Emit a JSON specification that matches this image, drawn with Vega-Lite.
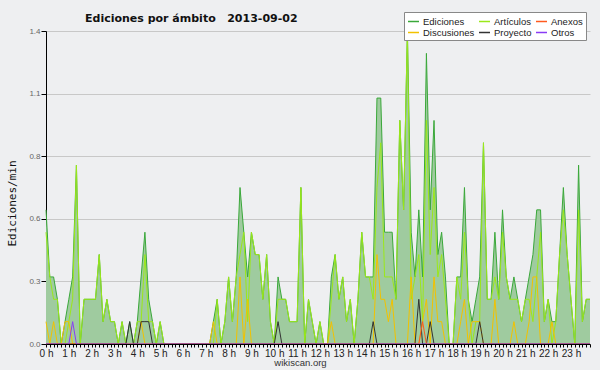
{
  "$schema": "https://vega.github.io/schema/vega-lite/v6.json",
  "width": 544,
  "height": 313,
  "autosize": {"type": "none"},
  "padding": {"left": 46, "top": 31, "right": 10, "bottom": 26},
  "background": "#eeeff1",
  "config": {"view": {"stroke": null}, "axis": {"labelOverlap": false, "labelBound": false}},
  "title": {
    "text": "Ediciones por ámbito\u00a0\u00a0\u00a02013-09-02",
    "anchor": "start",
    "frame": "group",
    "dx": 39,
    "offset": -21,
    "baseline": "alphabetic",
    "font": "DejaVu Sans",
    "fontWeight": "bold",
    "fontSize": 11,
    "color": "#111111"
  },
  "data": {
    "values": [
      {"t":0,"Ediciones":0.6,"Artículos":0.5,"Discusiones":0.1,"Proyecto":0,"Anexos":0,"Otros":0},
      {"t":1,"Ediciones":0.3,"Artículos":0.3,"Discusiones":0,"Proyecto":0,"Anexos":0,"Otros":0},
      {"t":2,"Ediciones":0.3,"Artículos":0.2,"Discusiones":0.1,"Proyecto":0,"Anexos":0,"Otros":0},
      {"t":3,"Ediciones":0.2,"Artículos":0.2,"Discusiones":0,"Proyecto":0,"Anexos":0,"Otros":0},
      {"t":4,"Ediciones":0,"Artículos":0,"Discusiones":0,"Proyecto":0,"Anexos":0,"Otros":0},
      {"t":5,"Ediciones":0.1,"Artículos":0,"Discusiones":0.1,"Proyecto":0,"Anexos":0,"Otros":0},
      {"t":6,"Ediciones":0.2,"Artículos":0.1,"Discusiones":0.1,"Proyecto":0,"Anexos":0,"Otros":0},
      {"t":7,"Ediciones":0.3,"Artículos":0.2,"Discusiones":0,"Proyecto":0,"Anexos":0,"Otros":0.1},
      {"t":8,"Ediciones":0.8,"Artículos":0.8,"Discusiones":0,"Proyecto":0,"Anexos":0,"Otros":0},
      {"t":9,"Ediciones":0,"Artículos":0,"Discusiones":0,"Proyecto":0,"Anexos":0,"Otros":0},
      {"t":10,"Ediciones":0.2,"Artículos":0.2,"Discusiones":0,"Proyecto":0,"Anexos":0,"Otros":0},
      {"t":11,"Ediciones":0.2,"Artículos":0.2,"Discusiones":0,"Proyecto":0,"Anexos":0,"Otros":0},
      {"t":12,"Ediciones":0.2,"Artículos":0.2,"Discusiones":0,"Proyecto":0,"Anexos":0,"Otros":0},
      {"t":13,"Ediciones":0.2,"Artículos":0.2,"Discusiones":0,"Proyecto":0,"Anexos":0,"Otros":0},
      {"t":14,"Ediciones":0.4,"Artículos":0.4,"Discusiones":0,"Proyecto":0,"Anexos":0,"Otros":0},
      {"t":15,"Ediciones":0.1,"Artículos":0.1,"Discusiones":0,"Proyecto":0,"Anexos":0,"Otros":0},
      {"t":16,"Ediciones":0.2,"Artículos":0.2,"Discusiones":0,"Proyecto":0,"Anexos":0,"Otros":0},
      {"t":17,"Ediciones":0.1,"Artículos":0.1,"Discusiones":0,"Proyecto":0,"Anexos":0,"Otros":0},
      {"t":18,"Ediciones":0.1,"Artículos":0.1,"Discusiones":0,"Proyecto":0,"Anexos":0,"Otros":0},
      {"t":19,"Ediciones":0,"Artículos":0,"Discusiones":0,"Proyecto":0,"Anexos":0,"Otros":0},
      {"t":20,"Ediciones":0.1,"Artículos":0.1,"Discusiones":0,"Proyecto":0,"Anexos":0,"Otros":0},
      {"t":21,"Ediciones":0,"Artículos":0,"Discusiones":0,"Proyecto":0,"Anexos":0,"Otros":0},
      {"t":22,"Ediciones":0.1,"Artículos":0,"Discusiones":0,"Proyecto":0.1,"Anexos":0,"Otros":0},
      {"t":23,"Ediciones":0,"Artículos":0,"Discusiones":0,"Proyecto":0,"Anexos":0,"Otros":0},
      {"t":24,"Ediciones":0.1,"Artículos":0.1,"Discusiones":0,"Proyecto":0,"Anexos":0,"Otros":0},
      {"t":25,"Ediciones":0.3,"Artículos":0.1,"Discusiones":0.1,"Proyecto":0.1,"Anexos":0,"Otros":0},
      {"t":26,"Ediciones":0.5,"Artículos":0.4,"Discusiones":0,"Proyecto":0.1,"Anexos":0,"Otros":0},
      {"t":27,"Ediciones":0.2,"Artículos":0.1,"Discusiones":0,"Proyecto":0.1,"Anexos":0,"Otros":0},
      {"t":28,"Ediciones":0.1,"Artículos":0.1,"Discusiones":0,"Proyecto":0,"Anexos":0,"Otros":0},
      {"t":29,"Ediciones":0,"Artículos":0,"Discusiones":0,"Proyecto":0,"Anexos":0,"Otros":0},
      {"t":30,"Ediciones":0.1,"Artículos":0.1,"Discusiones":0,"Proyecto":0,"Anexos":0,"Otros":0},
      {"t":31,"Ediciones":0,"Artículos":0,"Discusiones":0,"Proyecto":0,"Anexos":0,"Otros":0},
      {"t":32,"Ediciones":0,"Artículos":0,"Discusiones":0,"Proyecto":0,"Anexos":0,"Otros":0},
      {"t":33,"Ediciones":0,"Artículos":0,"Discusiones":0,"Proyecto":0,"Anexos":0,"Otros":0},
      {"t":34,"Ediciones":0,"Artículos":0,"Discusiones":0,"Proyecto":0,"Anexos":0,"Otros":0},
      {"t":35,"Ediciones":0,"Artículos":0,"Discusiones":0,"Proyecto":0,"Anexos":0,"Otros":0},
      {"t":36,"Ediciones":0,"Artículos":0,"Discusiones":0,"Proyecto":0,"Anexos":0,"Otros":0},
      {"t":37,"Ediciones":0,"Artículos":0,"Discusiones":0,"Proyecto":0,"Anexos":0,"Otros":0},
      {"t":38,"Ediciones":0,"Artículos":0,"Discusiones":0,"Proyecto":0,"Anexos":0,"Otros":0},
      {"t":39,"Ediciones":0,"Artículos":0,"Discusiones":0,"Proyecto":0,"Anexos":0,"Otros":0},
      {"t":40,"Ediciones":0,"Artículos":0,"Discusiones":0,"Proyecto":0,"Anexos":0,"Otros":0},
      {"t":41,"Ediciones":0,"Artículos":0,"Discusiones":0,"Proyecto":0,"Anexos":0,"Otros":0},
      {"t":42,"Ediciones":0,"Artículos":0,"Discusiones":0,"Proyecto":0,"Anexos":0,"Otros":0},
      {"t":43,"Ediciones":0,"Artículos":0,"Discusiones":0,"Proyecto":0,"Anexos":0,"Otros":0},
      {"t":44,"Ediciones":0.1,"Artículos":0,"Discusiones":0.1,"Proyecto":0,"Anexos":0,"Otros":0},
      {"t":45,"Ediciones":0.2,"Artículos":0.2,"Discusiones":0,"Proyecto":0,"Anexos":0,"Otros":0},
      {"t":46,"Ediciones":0,"Artículos":0,"Discusiones":0,"Proyecto":0,"Anexos":0,"Otros":0},
      {"t":47,"Ediciones":0.1,"Artículos":0.1,"Discusiones":0,"Proyecto":0,"Anexos":0,"Otros":0},
      {"t":48,"Ediciones":0.3,"Artículos":0.3,"Discusiones":0,"Proyecto":0,"Anexos":0,"Otros":0},
      {"t":49,"Ediciones":0.1,"Artículos":0.1,"Discusiones":0,"Proyecto":0,"Anexos":0,"Otros":0},
      {"t":50,"Ediciones":0.3,"Artículos":0.3,"Discusiones":0,"Proyecto":0,"Anexos":0,"Otros":0},
      {"t":51,"Ediciones":0.7,"Artículos":0.4,"Discusiones":0.3,"Proyecto":0,"Anexos":0,"Otros":0},
      {"t":52,"Ediciones":0.5,"Artículos":0.5,"Discusiones":0,"Proyecto":0,"Anexos":0,"Otros":0},
      {"t":53,"Ediciones":0.3,"Artículos":0.1,"Discusiones":0.2,"Proyecto":0,"Anexos":0,"Otros":0},
      {"t":54,"Ediciones":0.5,"Artículos":0.5,"Discusiones":0,"Proyecto":0,"Anexos":0,"Otros":0},
      {"t":55,"Ediciones":0.4,"Artículos":0.4,"Discusiones":0,"Proyecto":0,"Anexos":0,"Otros":0},
      {"t":56,"Ediciones":0.4,"Artículos":0.4,"Discusiones":0,"Proyecto":0,"Anexos":0,"Otros":0},
      {"t":57,"Ediciones":0.2,"Artículos":0.2,"Discusiones":0,"Proyecto":0,"Anexos":0,"Otros":0},
      {"t":58,"Ediciones":0.4,"Artículos":0.4,"Discusiones":0,"Proyecto":0,"Anexos":0,"Otros":0},
      {"t":59,"Ediciones":0.1,"Artículos":0.1,"Discusiones":0,"Proyecto":0,"Anexos":0,"Otros":0},
      {"t":60,"Ediciones":0,"Artículos":0,"Discusiones":0,"Proyecto":0,"Anexos":0,"Otros":0},
      {"t":61,"Ediciones":0.3,"Artículos":0.2,"Discusiones":0,"Proyecto":0.1,"Anexos":0,"Otros":0},
      {"t":62,"Ediciones":0.2,"Artículos":0.2,"Discusiones":0,"Proyecto":0,"Anexos":0,"Otros":0},
      {"t":63,"Ediciones":0.2,"Artículos":0.2,"Discusiones":0,"Proyecto":0,"Anexos":0,"Otros":0},
      {"t":64,"Ediciones":0.1,"Artículos":0.1,"Discusiones":0,"Proyecto":0,"Anexos":0,"Otros":0},
      {"t":65,"Ediciones":0.1,"Artículos":0.1,"Discusiones":0,"Proyecto":0,"Anexos":0,"Otros":0},
      {"t":66,"Ediciones":0.1,"Artículos":0.1,"Discusiones":0,"Proyecto":0,"Anexos":0,"Otros":0},
      {"t":67,"Ediciones":0.7,"Artículos":0.7,"Discusiones":0,"Proyecto":0,"Anexos":0,"Otros":0},
      {"t":68,"Ediciones":0,"Artículos":0,"Discusiones":0,"Proyecto":0,"Anexos":0,"Otros":0},
      {"t":69,"Ediciones":0.2,"Artículos":0.2,"Discusiones":0,"Proyecto":0,"Anexos":0,"Otros":0},
      {"t":70,"Ediciones":0.1,"Artículos":0.1,"Discusiones":0,"Proyecto":0,"Anexos":0,"Otros":0},
      {"t":71,"Ediciones":0,"Artículos":0,"Discusiones":0,"Proyecto":0,"Anexos":0,"Otros":0},
      {"t":72,"Ediciones":0.1,"Artículos":0.1,"Discusiones":0,"Proyecto":0,"Anexos":0,"Otros":0},
      {"t":73,"Ediciones":0,"Artículos":0,"Discusiones":0,"Proyecto":0,"Anexos":0,"Otros":0},
      {"t":74,"Ediciones":0,"Artículos":0,"Discusiones":0,"Proyecto":0,"Anexos":0,"Otros":0},
      {"t":75,"Ediciones":0.3,"Artículos":0.2,"Discusiones":0.1,"Proyecto":0,"Anexos":0,"Otros":0},
      {"t":76,"Ediciones":0.4,"Artículos":0.4,"Discusiones":0,"Proyecto":0,"Anexos":0,"Otros":0},
      {"t":77,"Ediciones":0.2,"Artículos":0.2,"Discusiones":0,"Proyecto":0,"Anexos":0,"Otros":0},
      {"t":78,"Ediciones":0.3,"Artículos":0.3,"Discusiones":0,"Proyecto":0,"Anexos":0,"Otros":0},
      {"t":79,"Ediciones":0.1,"Artículos":0.1,"Discusiones":0,"Proyecto":0,"Anexos":0,"Otros":0},
      {"t":80,"Ediciones":0.2,"Artículos":0.2,"Discusiones":0,"Proyecto":0,"Anexos":0,"Otros":0},
      {"t":81,"Ediciones":0,"Artículos":0,"Discusiones":0,"Proyecto":0,"Anexos":0,"Otros":0},
      {"t":82,"Ediciones":0.2,"Artículos":0.2,"Discusiones":0,"Proyecto":0,"Anexos":0,"Otros":0},
      {"t":83,"Ediciones":0.5,"Artículos":0.5,"Discusiones":0,"Proyecto":0,"Anexos":0,"Otros":0},
      {"t":84,"Ediciones":0.3,"Artículos":0.3,"Discusiones":0,"Proyecto":0,"Anexos":0,"Otros":0},
      {"t":85,"Ediciones":0.3,"Artículos":0.3,"Discusiones":0,"Proyecto":0,"Anexos":0,"Otros":0},
      {"t":86,"Ediciones":0.3,"Artículos":0.2,"Discusiones":0,"Proyecto":0.1,"Anexos":0,"Otros":0},
      {"t":87,"Ediciones":1.1,"Artículos":0.7,"Discusiones":0.4,"Proyecto":0,"Anexos":0,"Otros":0},
      {"t":88,"Ediciones":1.1,"Artículos":0.9,"Discusiones":0.2,"Proyecto":0,"Anexos":0,"Otros":0},
      {"t":89,"Ediciones":0.5,"Artículos":0.3,"Discusiones":0.2,"Proyecto":0,"Anexos":0,"Otros":0},
      {"t":90,"Ediciones":0.5,"Artículos":0.3,"Discusiones":0.1,"Proyecto":0,"Anexos":0,"Otros":0},
      {"t":91,"Ediciones":0.5,"Artículos":0.3,"Discusiones":0.2,"Proyecto":0,"Anexos":0,"Otros":0},
      {"t":92,"Ediciones":0.2,"Artículos":0.2,"Discusiones":0,"Proyecto":0,"Anexos":0,"Otros":0},
      {"t":93,"Ediciones":1.0,"Artículos":1.0,"Discusiones":0,"Proyecto":0,"Anexos":0,"Otros":0},
      {"t":94,"Ediciones":0.6,"Artículos":0.6,"Discusiones":0,"Proyecto":0,"Anexos":0,"Otros":0},
      {"t":95,"Ediciones":1.4,"Artículos":1.4,"Discusiones":0,"Proyecto":0,"Anexos":0,"Otros":0},
      {"t":96,"Ediciones":0.5,"Artículos":0.2,"Discusiones":0.3,"Proyecto":0,"Anexos":0,"Otros":0},
      {"t":97,"Ediciones":0.3,"Artículos":0.3,"Discusiones":0,"Proyecto":0,"Anexos":0,"Otros":0},
      {"t":98,"Ediciones":0.6,"Artículos":0.4,"Discusiones":0,"Proyecto":0.2,"Anexos":0,"Otros":0},
      {"t":99,"Ediciones":0.3,"Artículos":0.1,"Discusiones":0.1,"Proyecto":0,"Anexos":0.1,"Otros":0},
      {"t":100,"Ediciones":1.3,"Artículos":1.0,"Discusiones":0.2,"Proyecto":0,"Anexos":0,"Otros":0},
      {"t":101,"Ediciones":0.6,"Artículos":0.4,"Discusiones":0,"Proyecto":0.1,"Anexos":0,"Otros":0},
      {"t":102,"Ediciones":1.0,"Artículos":0.7,"Discusiones":0.3,"Proyecto":0,"Anexos":0,"Otros":0},
      {"t":103,"Ediciones":0.4,"Artículos":0.3,"Discusiones":0.1,"Proyecto":0,"Anexos":0,"Otros":0},
      {"t":104,"Ediciones":0.5,"Artículos":0.4,"Discusiones":0.1,"Proyecto":0,"Anexos":0,"Otros":0},
      {"t":105,"Ediciones":0.3,"Artículos":0.2,"Discusiones":0,"Proyecto":0,"Anexos":0,"Otros":0},
      {"t":106,"Ediciones":0,"Artículos":0,"Discusiones":0,"Proyecto":0,"Anexos":0,"Otros":0},
      {"t":107,"Ediciones":0,"Artículos":0,"Discusiones":0,"Proyecto":0,"Anexos":0,"Otros":0},
      {"t":108,"Ediciones":0.3,"Artículos":0.3,"Discusiones":0,"Proyecto":0,"Anexos":0,"Otros":0},
      {"t":109,"Ediciones":0.3,"Artículos":0.2,"Discusiones":0.1,"Proyecto":0,"Anexos":0,"Otros":0},
      {"t":110,"Ediciones":0.7,"Artículos":0.5,"Discusiones":0.2,"Proyecto":0,"Anexos":0,"Otros":0},
      {"t":111,"Ediciones":0.2,"Artículos":0.2,"Discusiones":0,"Proyecto":0,"Anexos":0,"Otros":0},
      {"t":112,"Ediciones":0.1,"Artículos":0,"Discusiones":0.1,"Proyecto":0,"Anexos":0,"Otros":0},
      {"t":113,"Ediciones":0.2,"Artículos":0.1,"Discusiones":0.1,"Proyecto":0,"Anexos":0,"Otros":0},
      {"t":114,"Ediciones":0.3,"Artículos":0.1,"Discusiones":0.1,"Proyecto":0.1,"Anexos":0,"Otros":0},
      {"t":115,"Ediciones":0.9,"Artículos":0.9,"Discusiones":0,"Proyecto":0,"Anexos":0,"Otros":0},
      {"t":116,"Ediciones":0.2,"Artículos":0.2,"Discusiones":0,"Proyecto":0,"Anexos":0,"Otros":0},
      {"t":117,"Ediciones":0.2,"Artículos":0.2,"Discusiones":0,"Proyecto":0,"Anexos":0,"Otros":0},
      {"t":118,"Ediciones":0.5,"Artículos":0.3,"Discusiones":0.2,"Proyecto":0,"Anexos":0,"Otros":0},
      {"t":119,"Ediciones":0.2,"Artículos":0.2,"Discusiones":0,"Proyecto":0,"Anexos":0,"Otros":0},
      {"t":120,"Ediciones":0.6,"Artículos":0.5,"Discusiones":0,"Proyecto":0,"Anexos":0,"Otros":0},
      {"t":121,"Ediciones":0.3,"Artículos":0.3,"Discusiones":0,"Proyecto":0,"Anexos":0,"Otros":0},
      {"t":122,"Ediciones":0.2,"Artículos":0.2,"Discusiones":0,"Proyecto":0,"Anexos":0,"Otros":0},
      {"t":123,"Ediciones":0.3,"Artículos":0.2,"Discusiones":0.1,"Proyecto":0,"Anexos":0,"Otros":0},
      {"t":124,"Ediciones":0.2,"Artículos":0.2,"Discusiones":0,"Proyecto":0,"Anexos":0,"Otros":0},
      {"t":125,"Ediciones":0.1,"Artículos":0.1,"Discusiones":0,"Proyecto":0,"Anexos":0,"Otros":0},
      {"t":126,"Ediciones":0.2,"Artículos":0.2,"Discusiones":0,"Proyecto":0,"Anexos":0,"Otros":0},
      {"t":127,"Ediciones":0.3,"Artículos":0.2,"Discusiones":0.1,"Proyecto":0,"Anexos":0,"Otros":0},
      {"t":128,"Ediciones":0.4,"Artículos":0.1,"Discusiones":0.3,"Proyecto":0,"Anexos":0,"Otros":0},
      {"t":129,"Ediciones":0.6,"Artículos":0.3,"Discusiones":0.3,"Proyecto":0,"Anexos":0,"Otros":0},
      {"t":130,"Ediciones":0.6,"Artículos":0.5,"Discusiones":0,"Proyecto":0,"Anexos":0,"Otros":0},
      {"t":131,"Ediciones":0.1,"Artículos":0.1,"Discusiones":0,"Proyecto":0,"Anexos":0,"Otros":0},
      {"t":132,"Ediciones":0.2,"Artículos":0.2,"Discusiones":0,"Proyecto":0,"Anexos":0,"Otros":0},
      {"t":133,"Ediciones":0.1,"Artículos":0,"Discusiones":0.1,"Proyecto":0,"Anexos":0,"Otros":0},
      {"t":134,"Ediciones":0.1,"Artículos":0.1,"Discusiones":0,"Proyecto":0,"Anexos":0,"Otros":0},
      {"t":135,"Ediciones":0.4,"Artículos":0.4,"Discusiones":0,"Proyecto":0,"Anexos":0,"Otros":0},
      {"t":136,"Ediciones":0.7,"Artículos":0.6,"Discusiones":0,"Proyecto":0,"Anexos":0,"Otros":0},
      {"t":137,"Ediciones":0.4,"Artículos":0.4,"Discusiones":0,"Proyecto":0,"Anexos":0,"Otros":0},
      {"t":138,"Ediciones":0.2,"Artículos":0.2,"Discusiones":0,"Proyecto":0,"Anexos":0,"Otros":0},
      {"t":139,"Ediciones":0,"Artículos":0,"Discusiones":0,"Proyecto":0,"Anexos":0,"Otros":0},
      {"t":140,"Ediciones":0.8,"Artículos":0.6,"Discusiones":0,"Proyecto":0,"Anexos":0,"Otros":0},
      {"t":141,"Ediciones":0.1,"Artículos":0.1,"Discusiones":0,"Proyecto":0,"Anexos":0,"Otros":0},
      {"t":142,"Ediciones":0.2,"Artículos":0.2,"Discusiones":0,"Proyecto":0,"Anexos":0,"Otros":0},
      {"t":143,"Ediciones":0.2,"Artículos":0.2,"Discusiones":0,"Proyecto":0,"Anexos":0,"Otros":0}
    ]
  },
  "encoding": {
    "x": {
      "field": "t",
      "type": "quantitative",
      "scale": {"domain": [0, 143], "nice": false, "zero": false},
      "axis": {
        "values": [0,1,2,3,4,5,6,7,8,9,10,11,12,13,14,15,16,17,18,19,20,21,22,23,24,25,26,27,28,29,30,31,32,33,34,35,36,37,38,39,40,41,42,43,44,45,46,47,48,49,50,51,52,53,54,55,56,57,58,59,60,61,62,63,64,65,66,67,68,69,70,71,72,73,74,75,76,77,78,79,80,81,82,83,84,85,86,87,88,89,90,91,92,93,94,95,96,97,98,99,100,101,102,103,104,105,106,107,108,109,110,111,112,113,114,115,116,117,118,119,120,121,122,123,124,125,126,127,128,129,130,131,132,133,134,135,136,137,138,139,140,141,142,143],
        "labelExpr": "datum.value % 6 === 0 ? (datum.value / 6) + ' h' : ''",
        "labelOverlap": false,
        "labelSeparation": -15,
        "labelFlush": false,
        "labelBound": false,
        "labelFont": "Liberation Sans",
        "labelFontSize": 10,
        "labelColor": "#222222",
        "labelPadding": 1,
        "tickSize": 3,
        "tickColor": "#000000",
        "domainColor": "#000000",
        "grid": false,
        "zindex": 1,
        "title": "wikiscan.org",
        "titleFont": "Liberation Sans",
        "titleFontSize": 9.5,
        "titleFontWeight": "normal",
        "titleColor": "#333333",
        "titleX": 254,
        "titleY": 21.5,
        "titleBaseline": "alphabetic",
        "titleAlign": "center"
      }
    }
  },
  "layer": [
    {
      "mark": {"type": "area", "color": "#9fcb9f", "opacity": 1},
      "encoding": {
        "y": {
          "field": "Ediciones",
          "type": "quantitative",
          "scale": {"domain": [0, 1.4], "nice": false},
          "axis": {
            "values": [0,0.07,0.14,0.21,0.28,0.35,0.42,0.49,0.56,0.63,0.7,0.77,0.84,0.91,0.98,1.05,1.12,1.19,1.26,1.33,1.4],
            "labelExpr": "round(datum.value * 100) % 28 === 0 ? format(datum.value, '.1f') : ''",
            "labelOverlap": false,
            "labelFont": "Liberation Sans",
            "labelFontSize": 8,
            "labelColor": "#666666",
            "labelPadding": 1,
            "tickColor": "#000000",
            "tickSize": {"condition": {"test": "round(datum.value * 100) % 28 === 0", "value": 5}, "value": 3},
            "domainColor": "#000000",
            "grid": true,
            "gridColor": "#c8c8c8",
            "gridOpacity": {"condition": {"test": "round(datum.value * 100) % 28 === 0", "value": 1}, "value": 0},
            "zindex": 0,
            "title": "Ediciones/min",
            "titleFont": "DejaVu Sans Mono",
            "titleFontSize": 11,
            "titleFontWeight": "normal",
            "titleColor": "#111111",
            "titleX": -40,
            "titleY": 172,
            "titleBaseline": "top",
            "titleAlign": "center"
          }
        }
      }
    },
    {
      "mark": {"type": "line", "color": "#3aa83a", "strokeWidth": 1},
      "encoding": {
        "y": {"field": "Ediciones", "type": "quantitative"}
      }
    },
    {
      "transform": [
        {"fold": ["Artículos", "Discusiones", "Proyecto", "Anexos", "Otros"], "as": ["serie", "v"]}
      ],
      "mark": {"type": "line", "strokeWidth": 1},
      "encoding": {
        "y": {"field": "v", "type": "quantitative"},
        "color": {
          "field": "serie",
          "type": "nominal",
          "scale": {
            "domain": ["Ediciones", "Artículos", "Anexos", "Discusiones", "Proyecto", "Otros"],
            "range": ["#3aa83a", "#9be81a", "#ff5a1f", "#f2c200", "#333333", "#8a3cf5"]
          },
          "legend": {
            "orient": "none",
            "legendX": 358,
            "legendY": -19,
            "direction": "horizontal",
            "columns": 3,
            "title": null,
            "symbolType": "stroke",
            "symbolSize": 121,
            "symbolStrokeWidth": 1.5,
            "labelFont": "Liberation Sans",
            "labelFontSize": 9.5,
            "labelColor": "#222222",
            "labelOffset": 3,
            "fillColor": "#ffffff",
            "strokeColor": "#888888",
            "padding": 3,
            "rowPadding": -2,
            "columnPadding": 1,
            "gridAlign": "each"
          }
        }
      }
    },
    {
      "data": {"values": [{"note": "CC BY-SA 3.0"}]},
      "mark": {"type": "text", "align": "right", "baseline": "alphabetic", "dy": 20.5, "font": "Liberation Sans", "fontSize": 6.5, "color": "#333333"},
      "encoding": {
        "x": {"datum": 143, "type": "quantitative"},
        "y": {"datum": 0, "type": "quantitative"},
        "text": {"field": "note"}
      }
    }
  ]
}
